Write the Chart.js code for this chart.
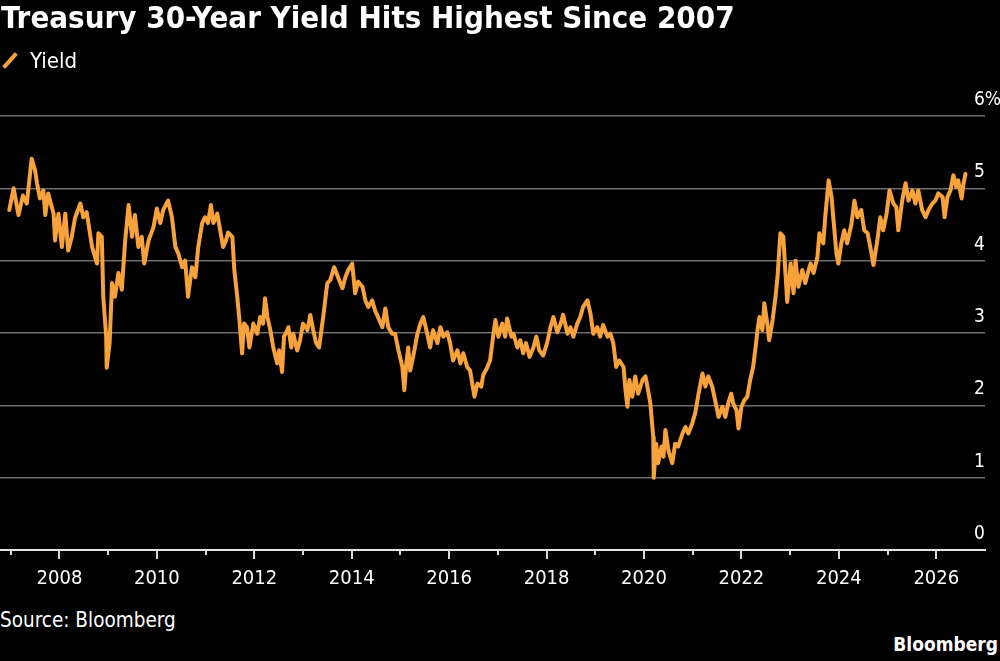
<!DOCTYPE html>
<html>
<head>
<meta charset="utf-8">
<script src="https://cdn.jsdelivr.net/npm/chart.js@4.4.1/dist/chart.umd.min.js"></script>
<style>
  html, body { margin: 0; padding: 0; background: #000; width: 1000px; height: 661px; overflow: hidden; }
  body { position: relative; font-family: "DejaVu Sans Condensed", "DejaVu Sans", sans-serif; color: #fff; }
  #wrap { position: absolute; left: 0; top: 0; width: 1000px; height: 600px; }
  #title { position: absolute; left: 1px; top: -1px; font-size: 31px; font-weight: bold; white-space: nowrap; }
  #legend { position: absolute; left: 2px; top: 48px; font-size: 22px; white-space: nowrap; }
  #legend .sw { display: inline-block; width: 4px; height: 19px; background: #f7a23b; transform: rotate(42deg); position: relative; top: 2px; left: 6px; margin-right: 24px; border-radius: 1px; }
  #source { position: absolute; left: 0px; top: 608px; font-size: 20.5px; white-space: nowrap; }
  #brand { position: absolute; right: 2px; top: 633px; font-size: 19px; font-weight: bold; white-space: nowrap; }
</style>
</head>
<body>
<div id="wrap"><canvas id="c"></canvas></div>
<div id="title">Treasury 30-Year Yield Hits Highest Since 2007</div>
<div id="legend"><span class="sw"></span>Yield</div>
<div id="source">Source: Bloomberg</div>
<div id="brand">Bloomberg</div>
<script>
// Decimal-year dates
const dates = [
2006.97,2007.06,2007.16,2007.25,2007.33,2007.43,2007.50,2007.54,2007.60,2007.67,2007.71,2007.77,2007.88,2007.91,2007.98,
2008.05,2008.12,2008.18,2008.25,2008.32,2008.43,2008.49,2008.56,2008.67,2008.77,2008.80,2008.87,2008.90,2008.96,2008.97,
2009.03,2009.08,2009.14,2009.21,2009.28,2009.35,2009.42,2009.49,2009.55,2009.62,2009.69,2009.74,2009.83,2009.93,
2010.00,2010.07,2010.13,2010.23,2010.31,2010.38,2010.44,2010.52,2010.58,2010.64,2010.72,2010.79,2010.85,2010.93,2010.99,
2011.05,2011.11,2011.16,2011.24,2011.30,2011.36,2011.42,2011.46,2011.55,2011.59,2011.65,2011.69,2011.75,2011.79,2011.85,2011.90,2011.98,
2012.06,2012.12,2012.18,2012.22,2012.27,2012.33,2012.39,2012.47,2012.51,2012.57,2012.61,2012.68,2012.70,2012.76,2012.80,2012.88,2012.94,
2013.00,2013.09,2013.15,2013.21,2013.27,2013.33,2013.42,2013.48,2013.50,2013.56,2013.64,2013.72,2013.81,2013.87,2013.93,
2014.01,2014.07,2014.13,2014.22,2014.28,2014.34,2014.42,2014.48,2014.54,2014.63,2014.69,2014.75,2014.83,2014.89,2014.96,
2015.04,2015.08,2015.12,2015.16,2015.20,2015.26,2015.35,2015.41,2015.47,2015.55,2015.61,2015.67,2015.76,2015.82,2015.88,2015.96,
2016.02,2016.08,2016.17,2016.23,2016.29,2016.37,2016.43,2016.52,2016.58,2016.66,2016.70,2016.78,2016.84,2016.91,2016.95,
2017.01,2017.09,2017.15,2017.19,2017.28,2017.32,2017.40,2017.46,2017.52,2017.58,2017.65,2017.73,2017.79,2017.85,2017.93,
2018.01,2018.08,2018.14,2018.22,2018.28,2018.34,2018.43,2018.49,2018.55,2018.63,2018.69,2018.75,2018.84,2018.90,2018.96,
2019.04,2019.10,2019.16,2019.25,2019.31,2019.37,2019.43,2019.49,2019.58,2019.62,2019.66,2019.70,2019.76,2019.82,2019.88,2019.97,
2020.03,2020.07,2020.13,2020.19,2020.20,2020.25,2020.29,2020.36,2020.40,2020.44,2020.50,2020.58,2020.64,2020.70,2020.79,2020.85,2020.91,2020.99,
2021.05,2021.12,2021.20,2021.26,2021.32,2021.40,2021.46,2021.53,2021.61,2021.67,2021.73,2021.79,2021.83,2021.90,2021.94,
2022.00,2022.06,2022.12,2022.18,2022.24,2022.29,2022.33,2022.37,2022.43,2022.47,2022.53,2022.57,2022.64,2022.70,2022.74,2022.80,2022.86,2022.90,2022.94,
2023.01,2023.07,2023.11,2023.17,2023.25,2023.31,2023.38,2023.42,2023.48,2023.56,2023.60,2023.68,2023.72,2023.79,2023.85,2023.89,2023.95,2023.99,
2024.05,2024.11,2024.17,2024.26,2024.32,2024.38,2024.46,2024.52,2024.59,2024.67,2024.71,2024.79,2024.85,2024.91,2024.98,
2025.04,2025.12,2025.18,2025.22,2025.30,2025.37,2025.43,2025.51,2025.57,2025.63,2025.71,2025.78,2025.84,2025.92,2025.98,
2026.04,2026.13,2026.17,2026.23,2026.29,2026.35,2026.41,2026.45,2026.52,2026.56,2026.60
];
// Yield, percent
const yields = [
4.70,5.00,4.63,4.90,4.79,5.41,5.25,5.07,4.86,4.97,4.63,4.93,4.65,4.28,4.65,
4.19,4.65,4.14,4.32,4.59,4.79,4.60,4.67,4.19,3.96,4.38,4.33,3.50,2.95,2.52,
2.86,3.69,3.50,3.83,3.60,4.28,4.77,4.33,4.63,4.19,4.33,3.96,4.28,4.46,
4.72,4.52,4.70,4.83,4.60,4.19,4.10,3.91,4.00,3.50,3.91,3.77,4.19,4.52,4.60,
4.52,4.77,4.52,4.65,4.42,4.19,4.28,4.39,4.33,3.87,3.50,3.22,2.72,3.13,3.08,2.80,3.13,
2.99,3.22,3.13,3.48,3.22,3.04,2.80,2.58,2.76,2.46,2.95,3.04,3.08,2.80,2.99,2.76,2.90,
3.13,3.04,3.25,3.04,2.86,2.80,3.25,3.59,3.69,3.73,3.91,3.77,3.62,3.77,3.87,
3.96,3.55,3.71,3.64,3.45,3.36,3.45,3.31,3.22,3.08,3.34,3.08,2.99,2.99,2.76,
2.53,2.21,2.58,2.80,2.48,2.67,2.99,3.13,3.22,2.99,2.80,3.04,2.86,3.08,2.95,3.01,
2.86,2.62,2.76,2.58,2.72,2.53,2.48,2.12,2.30,2.26,2.42,2.52,2.62,2.99,3.18,
2.95,3.13,2.95,3.20,2.95,2.99,2.80,2.90,2.72,2.86,2.67,2.80,2.95,2.76,2.69,
2.86,3.08,3.22,3.01,3.11,3.25,2.99,3.08,2.95,3.13,3.22,3.36,3.45,3.27,2.99,
3.08,2.95,3.11,2.95,2.99,2.86,2.53,2.62,2.53,2.21,1.98,2.35,2.12,2.40,2.16,2.35,
2.40,2.26,2.03,1.56,1.00,1.47,1.20,1.43,1.29,1.66,1.38,1.20,1.47,1.43,1.61,1.70,1.61,1.75,
1.89,2.16,2.44,2.26,2.40,2.26,2.07,1.84,1.98,1.84,2.03,2.16,2.03,1.93,1.68,
1.98,2.07,2.12,2.35,2.53,2.80,3.04,3.22,3.04,3.41,3.13,2.90,3.18,3.50,3.77,4.38,4.33,3.87,3.43,
3.96,3.55,4.00,3.64,3.87,3.69,3.87,3.96,3.83,4.05,4.38,4.24,4.60,5.11,4.88,4.56,4.10,3.96,
4.24,4.42,4.24,4.51,4.83,4.60,4.70,4.42,4.38,4.10,3.94,4.28,4.60,4.42,4.65,
4.97,4.79,4.74,4.42,4.83,5.07,4.83,4.97,4.79,4.97,4.70,4.60,4.70,4.79,4.83,
4.93,4.88,4.60,4.88,4.97,5.18,5.02,5.11,4.86,5.07,5.20
];
const yearTicks = [2008, 2010, 2012, 2014, 2016, 2018, 2020, 2022, 2024, 2026];
const minorYearTicks = [2007, 2009, 2011, 2013, 2015, 2017, 2019, 2021, 2023, 2025];
const yieldTicks = [0, 1, 2, 3, 4, 5, 6];

const FONT = '"DejaVu Sans Condensed", "DejaVu Sans", sans-serif';

const tickMarks = {
  id: 'tickMarks',
  afterDraw(chart) {
    const xs = chart.scales.x;
    const ctx = chart.ctx;
    const y0 = chart.chartArea.bottom;
    ctx.save();
    ctx.strokeStyle = '#d8d8d8';
    ctx.lineWidth = 2;
    const draw = (v, len) => {
      const px = Math.round(xs.getPixelForValue(v));
      ctx.beginPath();
      ctx.moveTo(px, y0);
      ctx.lineTo(px, y0 + len);
      ctx.stroke();
    };
    yearTicks.forEach(v => draw(v, 9));
    minorYearTicks.forEach(v => draw(v, 5));
    ctx.restore();
  }
};

new Chart(document.getElementById('c'), {
  type: 'line',
  data: {
    datasets: [{
      label: 'Yield',
      data: dates.map((d, i) => ({ x: d, y: yields[i] })),
      borderColor: '#f7a23b',
      borderWidth: 4,
      pointRadius: 0,
      tension: 0,
      borderJoinStyle: 'round',
      borderCapStyle: 'round'
    }]
  },
  options: {
    responsive: true,
    maintainAspectRatio: false,
    animation: false,
    devicePixelRatio: 1,
    layout: { padding: { top: 116, left: 0, right: 0, bottom: 0 } },
    plugins: { legend: { display: false }, tooltip: { enabled: false } },
    scales: {
      x: {
        type: 'linear',
        min: 2006.78,
        max: 2027.0,
        afterBuildTicks: s => { s.ticks = yearTicks.map(v => ({ value: v })); },
        afterFit: s => { s.height = 50; },
        grid: { display: false, drawTicks: false },
        border: { display: true, color: '#e6e6e6', width: 2 },
        ticks: {
          color: '#ffffff',
          font: { family: FONT, size: 20 },
          padding: 17,
          maxRotation: 0,
          autoSkip: false,
          callback: v => String(v)
        }
      },
      y: {
        position: 'right',
        min: 0,
        max: 6,
        afterBuildTicks: s => { s.ticks = yieldTicks.map(v => ({ value: v })); },
        afterFit: s => { s.width = 15; },
        grid: {
          drawTicks: false,
          color: ctx => (ctx.tick && ctx.tick.value === 0) ? 'rgba(0,0,0,0)' : '#6e6e6e',
          lineWidth: 1.5
        },
        border: { display: false },
        ticks: {
          mirror: true,
          crossAlign: 'far',
          padding: 16,
          labelOffset: -16,
          color: '#ffffff',
          font: { family: FONT, size: 19 },
          callback: v => v === 6 ? '6%' : String(v)
        }
      }
    }
  },
  plugins: [tickMarks]
});
</script>
</body>
</html>
